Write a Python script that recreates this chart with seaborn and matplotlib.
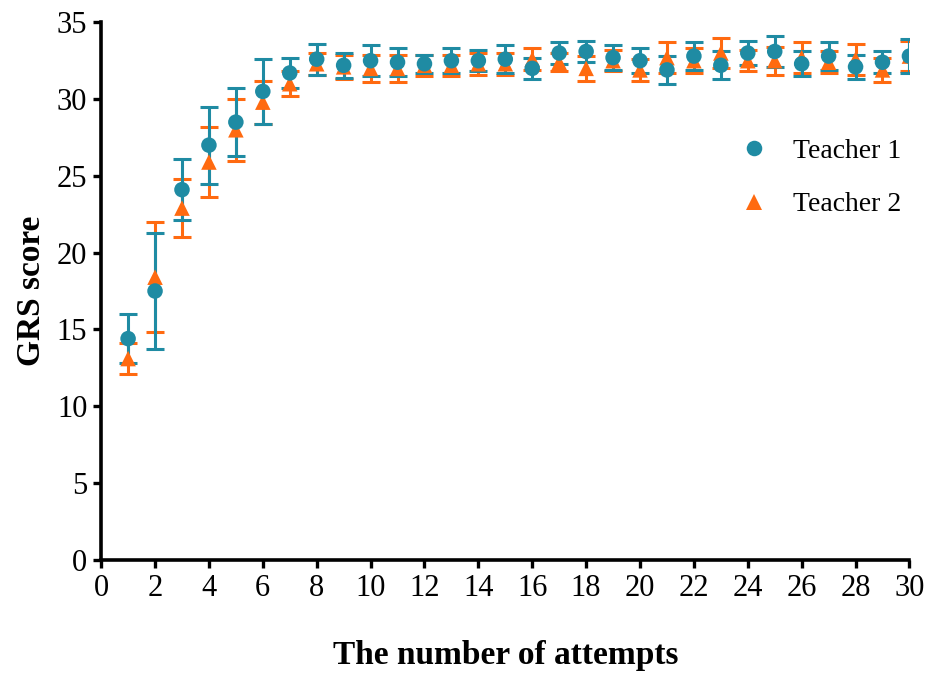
import numpy as np
import pandas as pd
import matplotlib
matplotlib.use("Agg")
import matplotlib.pyplot as plt
import seaborn as sns

# values (mean +/- SD)
attempts = list(range(1, 31))
t1_mean = [14.4, 17.5, 24.1, 27.0, 28.5, 30.5, 31.7, 32.6, 32.2, 32.5,
           32.4, 32.3, 32.5, 32.5, 32.6, 32.0, 33.0, 33.1, 32.7, 32.5,
           31.9, 32.8, 32.2, 33.0, 33.1, 32.3, 32.8, 32.1, 32.4, 32.8]
t1_sd = [1.6, 3.8, 2.0, 2.5, 2.2, 2.1, 1.0, 1.0, 0.8, 1.0,
         0.9, 0.6, 0.8, 0.7, 0.9, 0.7, 0.7, 0.7, 0.8, 0.8,
         0.9, 0.9, 0.9, 0.8, 1.0, 0.8, 0.9, 0.8, 0.7, 1.1]
t2_mean = [13.1, 18.4, 22.9, 25.9, 28.0, 29.8, 31.0, 32.3, 32.1, 32.0,
           32.0, 32.2, 32.2, 32.3, 32.3, 32.6, 32.4, 32.0, 32.5, 31.9,
           32.7, 32.5, 33.0, 32.5, 32.5, 32.7, 32.4, 32.6, 31.9, 32.8]
t2_sd = [1.0, 3.6, 1.9, 2.3, 2.0, 1.4, 0.8, 0.7, 0.8, 0.9,
         0.9, 0.7, 0.7, 0.7, 0.7, 0.7, 0.6, 0.8, 0.7, 0.7,
         1.0, 0.8, 1.0, 0.7, 0.9, 1.0, 0.7, 1.0, 0.8, 1.0]

teal = "#1f8ba3"
orange = "#ff6a10"

df = pd.concat([
    pd.DataFrame({"Attempt": attempts, "GRS": t1_mean, "SD": t1_sd, "Teacher": "Teacher 1"}),
    pd.DataFrame({"Attempt": attempts, "GRS": t2_mean, "SD": t2_sd, "Teacher": "Teacher 2"}),
], ignore_index=True)

sns.set_style("ticks")
plt.rcParams["font.family"] = ["Liberation Serif", "DejaVu Serif"]
plt.rcParams["text.color"] = "black"
plt.rcParams["axes.labelcolor"] = "black"

fig = plt.figure(figsize=(9.28, 6.76), dpi=100)
ax = fig.add_axes([0.109, 0.172, 0.871, 0.795])

# error bars: teacher 2 below teacher 1
for name, col in [("Teacher 2", orange), ("Teacher 1", teal)]:
    sub = df[df["Teacher"] == name]
    ax.errorbar(sub["Attempt"], sub["GRS"], yerr=sub["SD"], fmt="none",
                ecolor=col, elinewidth=2.2, capsize=6.5, capthick=2.2, zorder=2)

sns.scatterplot(data=df.iloc[::-1], x="Attempt", y="GRS", hue="Teacher", style="Teacher",
                hue_order=["Teacher 1", "Teacher 2"], style_order=["Teacher 1", "Teacher 2"],
                palette={"Teacher 1": teal, "Teacher 2": orange},
                markers={"Teacher 1": "o", "Teacher 2": "^"},
                s=125, edgecolor="none", linewidth=0, ax=ax, zorder=3)

ax.set_xlim(0, 30)
ax.set_ylim(0, 35)
ax.set_xticks(np.arange(0, 31, 2))
ax.set_yticks(np.arange(0, 36, 5))
ax.tick_params(axis="both", direction="out", length=6, width=2.4,
               labelsize=22, color="black", labelcolor="black", pad=4)
for s in ["left", "bottom"]:
    ax.spines[s].set_linewidth(2.6)
    ax.spines[s].set_color("black")
sns.despine(ax=ax)

ax.set_xlabel("The number of attempts", fontsize=24, fontweight="bold", labelpad=27)
ax.set_ylabel("GRS score", fontsize=24, fontweight="bold", labelpad=7)

leg = ax.legend(loc="upper left", bbox_to_anchor=(0.742, 0.83), frameon=False,
                fontsize=20, handletextpad=0.4, labelspacing=1.0, markerscale=1.0)
leg.set_title(None)
for t in leg.get_texts():
    t.set_color("black")

fig.savefig("out.png", dpi=100)
